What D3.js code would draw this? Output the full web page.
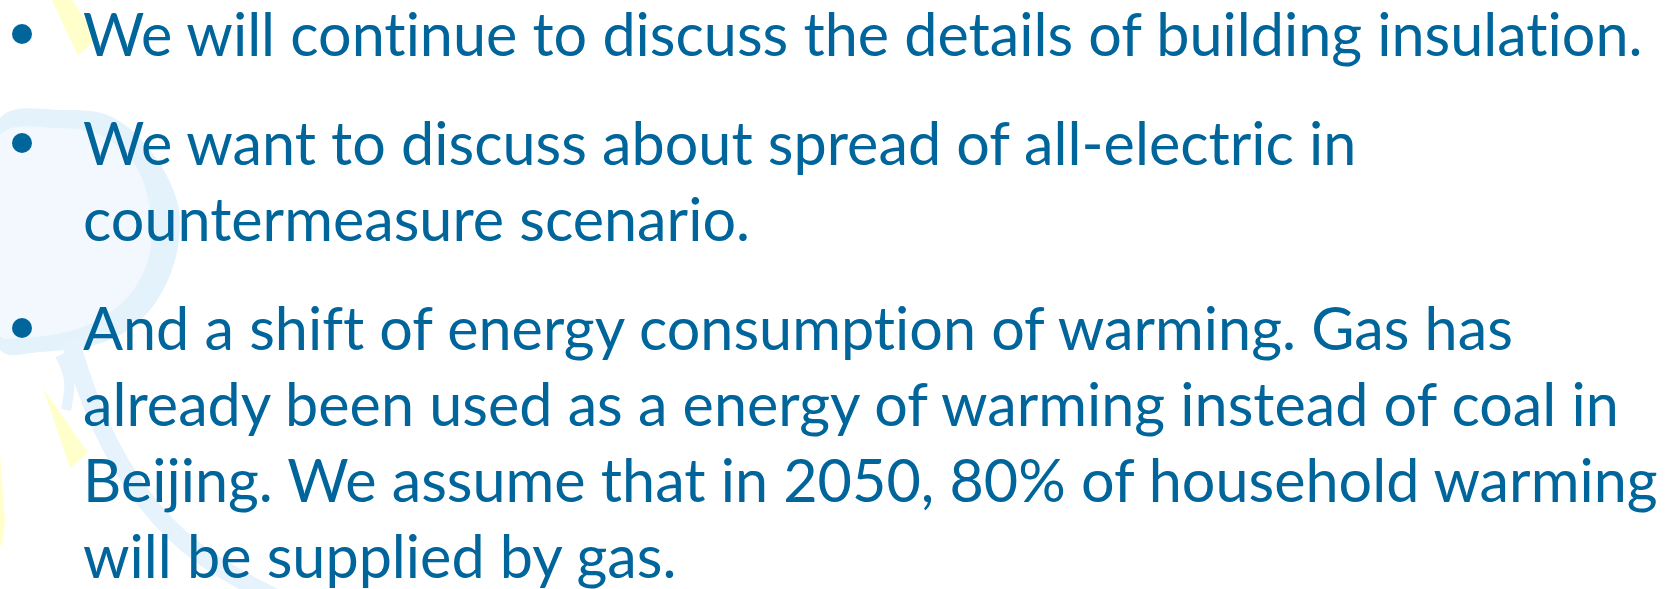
<!DOCTYPE html>
<html>
<head>
<meta charset="utf-8">
<script src="https://cdn.jsdelivr.net/npm/d3@7"></script>
<style>
  html, body { margin: 0; padding: 0; background: #fff; }
  svg { display: block; }
  text { font-variant-ligatures: none; font-feature-settings: "liga" 0, "clig" 0; }
</style>
</head>
<body>
<div id="slide"></div>
<script>
// bullet text, one array of lines per bullet
var bullets = [
    ["We will continue to discuss the details of building insulation."],
    ["We want to discuss about spread of all-electric in",
     "countermeasure scenario."],
    ["And a shift of energy consumption of warming. Gas has",
     "already been used as a energy of warming instead of coal in",
     "Beijing. We assume that in 2050, 80% of household warming",
     "will be supplied by gas."]
];

var W = 1669, H = 589;
var blue = "#00659b";

var svg = d3.select("#slide").append("svg").attr("width", W).attr("height", H);

// background decoration (faint sketch shapes on the left)
var line = d3.line().curve(d3.curveCatmullRomClosed);
var blob = [[0,118],[60,110],[110,116],[150,150],[178,205],[175,260],[150,310],[110,340],[40,352],[0,350]];
var blobInner = [[0,135],[55,128],[100,135],[135,165],[150,210],[148,260],[125,300],[80,328],[20,338],[0,336]];
svg.append("path").attr("d", line(blob)).attr("fill", "#e4f2fc");
svg.append("path").attr("d", line(blobInner)).attr("fill", "#f2f8fe");

var swoosh = d3.line().curve(d3.curveBasis);
svg.append("path")
   .attr("d", swoosh([[70,340],[95,420],[140,500],[200,560],[280,600]]))
   .attr("fill", "none").attr("stroke", "#e6f3fc").attr("stroke-width", 18);
svg.append("path")
   .attr("d", swoosh([[60,355],[72,380],[66,410]]))
   .attr("fill", "none").attr("stroke", "#e6f3fc").attr("stroke-width", 10);

var tri = d3.line();
[[[52,0],[72,0],[98,38],[78,56]],
 [[43,388],[88,453],[70,468]],
 [[0,455],[5,520],[2,545],[0,545]]].forEach(function (p) {
    svg.append("path").attr("d", tri(p) + "Z").attr("fill", "#ffffcc");
});

// text layout
var fontSize = 60, lineStep = 76, bulletGap = 33, firstBase = 56;
var textX = 83, bulletX = 22;

var rows = [];
bullets.forEach(function (b, bi) {
    b.forEach(function (t, li) {
        rows.push({ text: t, bullet: bi, first: li === 0 });
    });
});
rows.forEach(function (r, i) { r.y = firstBase + i * lineStep + r.bullet * bulletGap; });

var g = svg.append("g").attr("transform", "translate(" + textX + ",0)");
var texts = g.selectAll("text").data(rows).enter().append("text")
    .attr("x", 0)
    .attr("y", function (d) { return d.y; })
    .attr("font-family", "Lato, 'Open Sans', sans-serif")
    .attr("font-size", fontSize)
    .attr("fill", blue)
    .text(function (d) { return d.text; });

// squeeze horizontally to match the narrow original face
var w0 = texts.nodes()[0].getComputedTextLength();
var sx = 1560 / w0;
g.attr("transform", "translate(" + textX + ",0) scale(" + sx + ",1)");

svg.selectAll("circle.bullet").data(rows.filter(function (d) { return d.first; }))
   .enter().append("circle")
   .attr("class", "bullet")
   .attr("cx", bulletX)
   .attr("cy", function (d) { return d.y - 22; })
   .attr("r", 10)
   .attr("fill", blue);
</script>
</body>
</html>
